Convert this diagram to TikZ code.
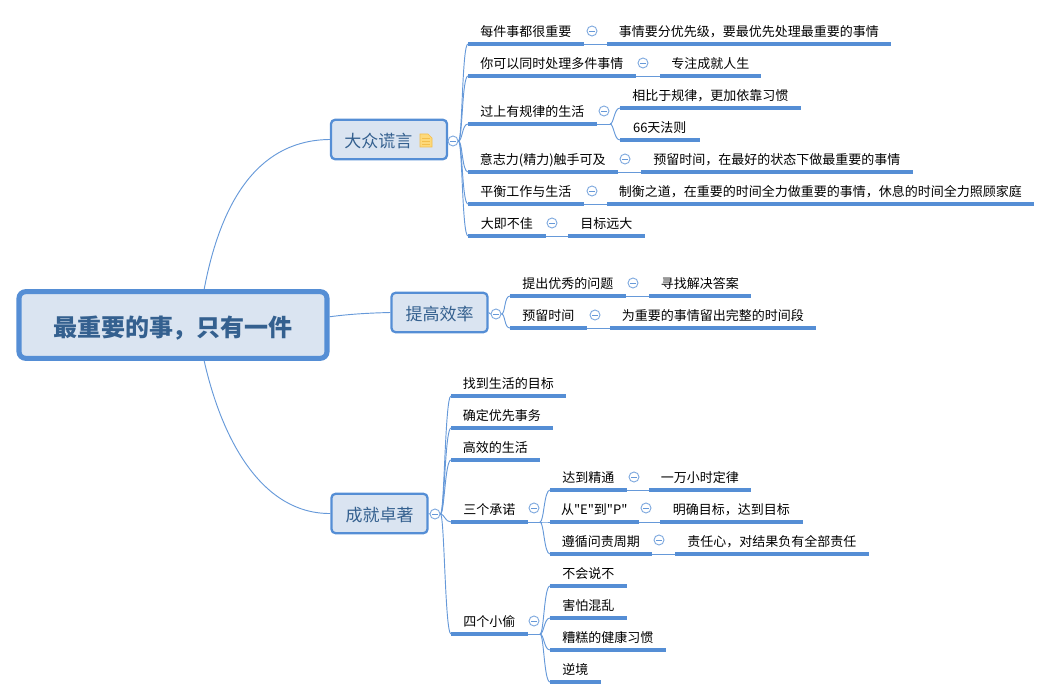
\documentclass[tikz,border=0pt]{standalone}
\usepackage{fontspec}
\setmainfont[Ligatures=TeXOff]{Noto Sans CJK SC}
\usetikzlibrary{positioning,calc}
\definecolor{mapblue}{HTML}{558ED5}
\definecolor{mapfill}{HTML}{DAE4F1}
\definecolor{mapink}{HTML}{34608F}
\definecolor{notefill}{HTML}{FDD97A}
\definecolor{noteline}{HTML}{F3BE4B}
\tikzset{
  rootbox/.style={rounded corners=5pt,draw=mapblue,fill=mapfill,line width=3.8pt,inner sep=0pt,
    minimum width=231pt,minimum height=50pt,text height=19pt,text depth=2pt,
    font=\bfseries\fontsize{18}{18}\selectfont,text=mapink},
  mainbox/.style={rounded corners=3pt,draw=mapblue,fill=mapfill,line width=1.7pt,inner sep=0pt,
    minimum height=29.5pt,text height=13pt,text depth=1.5pt,font=\fontsize{12.75}{13}\selectfont,text=mapink},
  topic/.style={anchor=south west,inner sep=0pt,minimum height=19.5pt,text height=10.5pt,text depth=1.5pt,
    font=\fontsize{9.75}{10}\selectfont},
  uline/.style={line width=2.3pt,mapblue},
  conn/.style={line width=0.7pt,mapblue!90},
  fork/.style={conn,to path={.. controls +(4,0) and +(-6,0) .. (\tikztotarget)}},
  coll/.style={circle,draw=mapblue!75,fill=white,line width=0.7pt,minimum size=7.5pt,inner sep=0pt,
    path picture={\draw[mapblue!90,line width=0.6pt] ([xshift=-2.2pt]path picture bounding box.center)--
      ([xshift=2.2pt]path picture bounding box.center);}},
}
\begin{document}
\begin{tikzpicture}[x=0.75pt,y=-0.75pt]
  \useasboundingbox (0,0) rectangle (1051,699);
  \node[rootbox] (root) at (173,325) {最重要的事，只有一件};
  \node[mainbox,minimum width=87pt] (lies) at (389,139.5) {大众谎言\kern16pt\null};
  \node[mainbox,minimum width=72pt] (eff) at (439.5,312.5) {提高效率};
  \node[mainbox,minimum width=72pt] (great) at (379.5,513.5) {成就卓著};
  % note icon on the first branch
  \draw[noteline,fill=notefill,line width=0.5pt] (420,134)--(428,134)--(432,138)--(432,147)--(420,147)--cycle;
  \foreach \yy in {138,141,144}{
    \draw[noteline,line width=0.7pt] (422,\yy)--(430,\yy);
  }
  % topics: name/left/right/underline y/text
  \foreach \n/\xa/\xb/\yy/\t in {
    a1/468/583/44/每件事都很重要, a1b/607/890/44/事情要分优先级，要最优先处理最重要的事情,
    a2/468/635/76/你可以同时处理多件事情, a2b/660/760/76/专注成就人生,
    a3/468/596/124/过上有规律的生活, a3x/620/800/108/相比于规律，更加依靠习惯, a3y/620/699/140/66天法则,
    a4/468/617/172/意志力(精力)触手可及, a4b/641/912/172/预留时间，在最好的状态下做最重要的事情,
    a5/468/583/204/平衡工作与生活, a5b/607/1033/204/制衡之道，在重要的时间全力做重要的事情，休息的时间全力照顾家庭,
    a6/468/545/236/大即不佳, a6b/568/644/236/目标远大,
    b1/510/625/296/提出优秀的问题, b1b/649/750/296/寻找解决答案,
    b2/510/586/328/预留时间, b2b/610/815/328/为重要的事情留出完整的时间段,
    c1/451/565/396/找到生活的目标, c2/451/552/428/确定优先事务, c3/451/539/460/高效的生活,
    c4/451/527/522/三个承诺, c5/451/527/634/四个小偷,
    d1/550/626/490/达到精通, d1b/649/750/490/一万小时定律,
    d2/550/638/522/从"E"到"P", d2b/660/802/522/明确目标，达到目标,
    d3/550/651/554/遵循问责周期, d3b/675/868/554/责任心，对结果负有全部责任,
    e1/550/626/586/不会说不, e2/550/626/618/害怕混乱, e3/550/665/650/糟糕的健康习惯, e4/550/600/682/逆境}{
    \node[topic,minimum width={(\xb-\xa)*0.75pt}] (\n) at (\xa,\yy) {\t};
    \draw[uline] (\n.south west)--(\n.south east);
  }
  % collapse marks
  \foreach \n/\xa/\yy in {lc/453/141, ec/496/314, gc/435/514, a1c/592/31, a2c/643/63, a3c/604/111,
    a4c/625/159, a5c/592/191, a6c/552/223, b1c/633/283, b2c/595/315, c4c/534/508, c5c/534/621,
    d1c/634/477, d2c/646/508, d3c/659/540}{
    \node[coll] (\n) at (\xa,\yy) {};
  }
  \coordinate (a3f) at (610,124);
  \coordinate (c4f) at (540,522);
  \coordinate (c5f) at (540,634);
  % root to main topics
  \draw[conn] (root.49) .. controls (222,195) and (262,140) .. (lies.west);
  \draw[conn] (root.3) .. controls (350,314) and (370,313) .. (eff.west);
  \draw[conn] (root.-49) .. controls (222,440) and (262,514) .. (great.west);
  \draw[conn] (lies.east)--(lc.west);
  \draw[conn] (eff.east)--(ec.west);
  \draw[conn] (great.east)--(gc.west);
  % forks out of the collapse marks
  \foreach \p/\k in {lc/a1, lc/a2, lc/a3, lc/a4, lc/a5, lc/a6, ec/b1, ec/b2,
    gc/c1, gc/c2, gc/c3, gc/c4, gc/c5}{
    \draw[fork] (\p.east) to (\k.south west);
  }
  \foreach \p/\k in {a3f/a3x, a3f/a3y, c4f/d1, c4f/d2, c4f/d3, c5f/e1, c5f/e2, c5f/e3, c5f/e4}{
    \draw[fork] (\p) to (\k.south west);
  }
  % straight joins
  \foreach \p/\k in {a1/a1b, a2/a2b, a4/a4b, a5/a5b, a6/a6b, b1/b1b, b2/b2b, d1/d1b, d2/d2b, d3/d3b}{
    \draw[conn] (\p.south east)--(\k.south west);
  }
  \draw[conn] (a3.south east)--(a3f);
  \draw[conn] (c4.south east)--(c4f);
  \draw[conn] (c5.south east)--(c5f);
\end{tikzpicture}
\end{document}
